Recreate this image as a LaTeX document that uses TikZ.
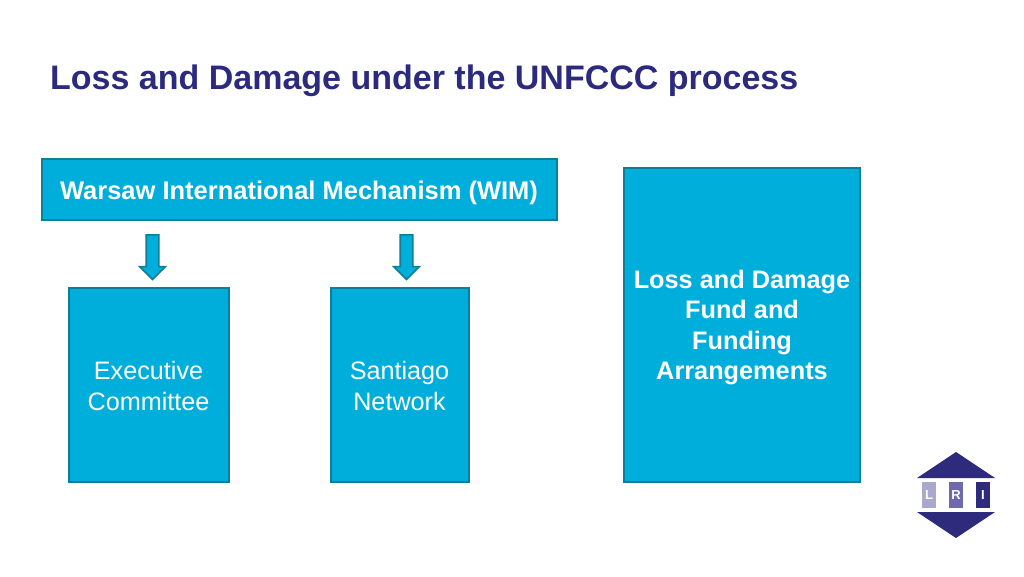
\documentclass[tikz,border=0pt]{standalone}
\usepackage{fontspec}
\setmainfont{Liberation Sans}
\usetikzlibrary{shapes.arrows}
\definecolor{fillblue}{HTML}{00AEDB}
\definecolor{edgeteal}{HTML}{0A7F96}
\definecolor{titlenavy}{HTML}{2B2A7E}
\definecolor{logonavy}{HTML}{2E2A7C}
\definecolor{logomid}{HTML}{6F6AAC}
\definecolor{logolight}{HTML}{ABA8D0}
\newcommand{\topup}[1]{\rule{0pt}{#1pt}}
\tikzset{
 bluebox/.style={draw=edgeteal,line width=2pt,fill=fillblue,inner sep=0pt,align=center,text=white,font=\fontsize{25.2}{30.5}\selectfont},
 boldbox/.style={bluebox,font=\fontsize{25.3}{30.5}\selectfont\bfseries},
 downarrow/.style={single arrow,draw=edgeteal,line width=1.6pt,fill=fillblue,shape border rotate=270,minimum height=44.5pt,minimum width=24pt,single arrow head extend=6.5pt,single arrow head indent=0pt,inner sep=0pt,text width=11pt},
 logotri/.style={fill=logonavy,draw=none},
 logosq/.style={minimum width=14pt,minimum height=26pt,inner sep=0pt,text=white,font=\fontsize{13}{13}\selectfont\bfseries},
}
\begin{document}
\begin{tikzpicture}[x=1pt,y=-1pt]
\useasboundingbox (0,0) rectangle (1024,576);
\fill[white] (0,0) rectangle (1024,576);
\node[anchor=west,text=titlenavy,font=\fontsize{34}{38}\selectfont\bfseries,inner sep=0pt] (title) at (50,81) {Loss and Damage under the UNFCCC process};
\node[boldbox,font=\fontsize{25.5}{30.5}\selectfont\bfseries,minimum width=515pt,minimum height=61pt] (wim) at (299,189.5) {\topup{25}Warsaw International Mechanism (WIM)};
\node[bluebox,minimum width=160pt,minimum height=194pt] (exec) at (148.5,385) {\topup{20}Executive\\Committee};
\node[bluebox,minimum width=138pt,minimum height=194pt] (sant) at (399.5,385) {\topup{20}Santiago\\Network};
\node[boldbox,minimum width=236pt,minimum height=314pt] (fund) at (742,324.5) {\topup{24.5}Loss and Damage\\Fund and\\Funding\\Arrangements};
\node[downarrow] (a1) at (152.5,254) {};
\node[downarrow] (a2) at (406.5,254) {};
\fill[logotri] (917,478) -- (956,452) -- (995,478) -- cycle;
\fill[logotri] (917,512) -- (956,538) -- (995,512) -- cycle;
\node[logosq,fill=logolight] (l) at (929,495) {L};
\node[logosq,fill=logomid] (r) at (956,495) {R};
\node[logosq,fill=logonavy] (i) at (983,495) {I};
\end{tikzpicture}
\end{document}
